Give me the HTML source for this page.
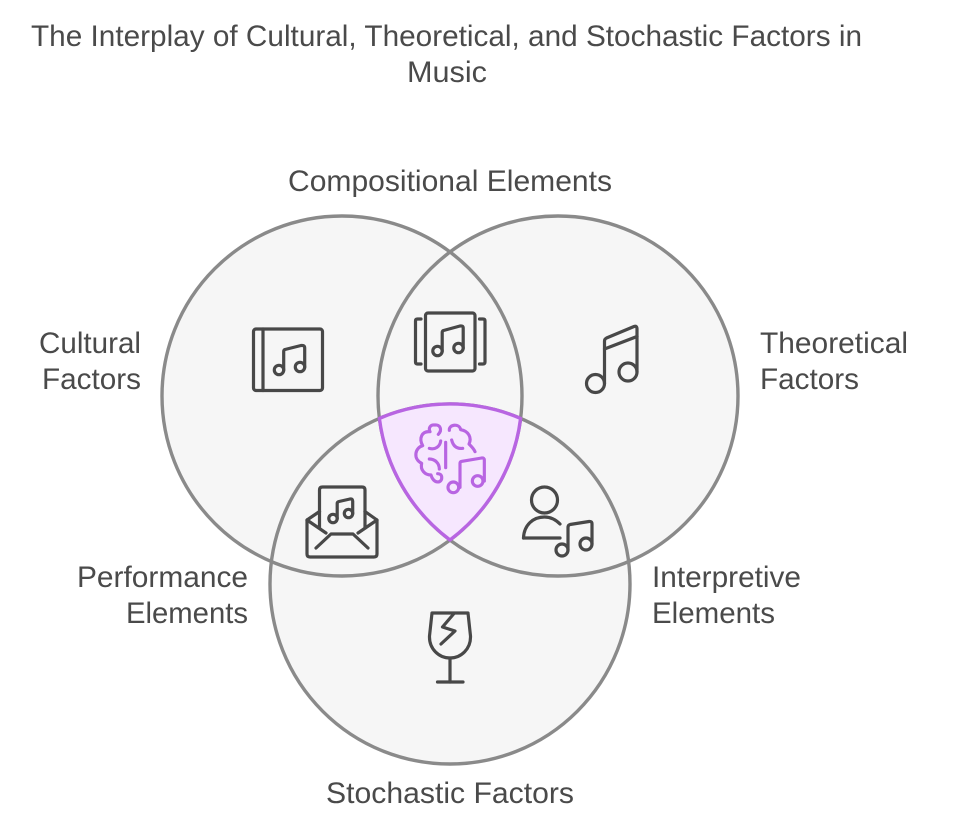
<!DOCTYPE html>
<html lang="en">
<head>
<meta charset="utf-8">
<title>The Interplay of Cultural, Theoretical, and Stochastic Factors in Music</title>
<style>
html,body{margin:0;padding:0;background:#fff;width:954px;height:828px;overflow:hidden}
svg{display:block}
text{font-family:"Liberation Sans",sans-serif;font-size:30px;fill:#4a4a4a}
.c{fill:#f6f6f6;stroke:none}
.o{fill:none;stroke:#8a8a8a;stroke-width:3.4}
.i{fill:none;stroke:#484848;stroke-width:3.2;stroke-linecap:round;stroke-linejoin:round}
.p{fill:none;stroke:#b865e2;stroke-width:9.5;stroke-linecap:round;stroke-linejoin:round}
</style>
</head>
<body>
<svg width="954" height="828" viewBox="0 0 954 828" xmlns="http://www.w3.org/2000/svg">
<rect width="954" height="828" fill="#fff"/>
<circle class="c" cx="342" cy="396" r="180"/>
<circle class="c" cx="558" cy="396" r="180"/>
<circle class="c" cx="450" cy="584" r="180"/>
<circle class="o" cx="342" cy="396" r="180"/>
<circle class="o" cx="558" cy="396" r="180"/>
<circle class="o" cx="450" cy="584" r="180"/>
<path d="M379.4 418.4 A180 180 0 0 1 520.6 418.4 A180 180 0 0 1 450 540 A180 180 0 0 1 379.4 418.4 Z" fill="#f6e7fe" stroke="#b865e2" stroke-width="3.400" stroke-linejoin="round"/>

<text x="31" y="46" textLength="831" lengthAdjust="spacingAndGlyphs">The Interplay of Cultural, Theoretical, and Stochastic Factors in</text>
<text x="407" y="82" textLength="80" lengthAdjust="spacingAndGlyphs">Music</text>
<text x="288" y="191" textLength="324" lengthAdjust="spacingAndGlyphs">Compositional Elements</text>
<text x="39" y="353" textLength="102" lengthAdjust="spacingAndGlyphs">Cultural</text>
<text x="42" y="389" textLength="99" lengthAdjust="spacingAndGlyphs">Factors</text>
<text x="760" y="353" textLength="148" lengthAdjust="spacingAndGlyphs">Theoretical</text>
<text x="760" y="389" textLength="99" lengthAdjust="spacingAndGlyphs">Factors</text>
<text x="77" y="587" textLength="171" lengthAdjust="spacingAndGlyphs">Performance</text>
<text x="126" y="623" textLength="122" lengthAdjust="spacingAndGlyphs">Elements</text>
<text x="652" y="587" textLength="149" lengthAdjust="spacingAndGlyphs">Interpretive</text>
<text x="652" y="623" textLength="123" lengthAdjust="spacingAndGlyphs">Elements</text>
<text x="326" y="803" textLength="248" lengthAdjust="spacingAndGlyphs">Stochastic Factors</text>

<!-- album book -->
<g class="i">
<rect x="253.500" y="329" width="69" height="61.500" rx="2.500"/>
<path d="M263 329V390.500"/>
<circle cx="279" cy="370" r="4.700"/>
<circle cx="300" cy="367" r="4.700"/>
<path d="M283.700 370V351.500Q283.700 350 285 349.500L301 345.500Q304.700 345 304.700 348V367"/>
</g>

<!-- framed album -->
<g class="i">
<rect x="425.500" y="313" width="49.500" height="58" rx="2.500"/>
<path d="M421 319H417.500Q415.500 319 415.500 321V362Q415.500 364 417.500 364H421"/>
<path d="M479.500 319H483Q485 319 485 321V362Q485 364 483 364H479.500"/>
<circle cx="437.500" cy="351" r="4.700"/>
<circle cx="458.500" cy="348" r="4.700"/>
<path d="M442.200 351V332.500Q442.200 331 443.500 330.500L460 326Q463.200 325.500 463.200 328V348"/>
</g>

<!-- music note -->
<g class="i">
<circle cx="595.500" cy="383.500" r="9"/>
<circle cx="628" cy="372" r="9"/>
<path d="M604.500 383.500V341Q604.500 339 606.500 338L634 326.500Q637 325.500 637 329V372"/>
<path d="M604.500 349L637 336.500"/>
</g>

<!-- envelope -->
<g class="i">
<path d="M319.500 528V490Q319.500 487 322.500 487H362Q365 487 365 490V528"/>
<path d="M319.500 511.500L307 520V554Q307 557 310 557H374Q377 557 377 554V520L365 511.500"/>
<path d="M307 520L326 533"/>
<path d="M377 520L358 533"/>
<path d="M316 548L331 534H353L368 548"/>
<circle cx="333" cy="518.500" r="4.200"/>
<circle cx="348.500" cy="513.500" r="4.200"/>
<path d="M337.200 518.500V503.500Q337.200 502 339 501.500L350 499Q352.700 498.500 352.700 501V513.500"/>
</g>

<!-- person with note -->
<g class="i">
<circle cx="544.500" cy="500" r="13"/>
<path d="M523.500 538C524 525 533 517 544.500 517C551 517 556 520 560 524"/>
<path d="M523.500 538H560"/>
<circle cx="562" cy="550" r="6"/>
<circle cx="586" cy="544" r="6"/>
<path d="M568 550V527.500Q568 525 570 524.500L589 521.500Q592 521 592 524V544"/>
</g>

<!-- broken glass -->
<g class="i">
<path d="M432 613H468L470.500 636C471 649 461 658 450 658C439 658 429 649 429.500 636Z"/>
<path d="M450 658V682"/>
<path d="M437.500 682H463"/>
<path d="M454 613.500L442.500 627L455 631L441 644"/>
</g>

<!-- brain and note -->
<g transform="translate(370 395) scale(.33333)" class="p">
<path d="M205 118C218 104 210 88 195 90C180 88 175 100 180 110C155 108 146 130 158 152C135 158 128 192 155 205C150 225 165 240 183 240C190 268 218 266 215 245C214 238 208 236 203 236"/>
<path d="M178 160C195 165 210 155 212 138"/>
<path d="M178 192C195 192 208 205 208 222"/>
<path d="M238 106C236 88 268 84 272 104C296 108 306 128 297 147C305 155 312 162 315 170"/>
<path d="M245 135C250 155 262 162 278 160"/>
<path d="M227 142V218"/>
<circle cx="250" cy="277" r="16"/>
<circle cx="323" cy="258" r="16"/>
<path d="M270 277V205Q270 200 276 199L335 189Q343 188 343 195V258"/>
</g>
</svg>
</body>
</html>
